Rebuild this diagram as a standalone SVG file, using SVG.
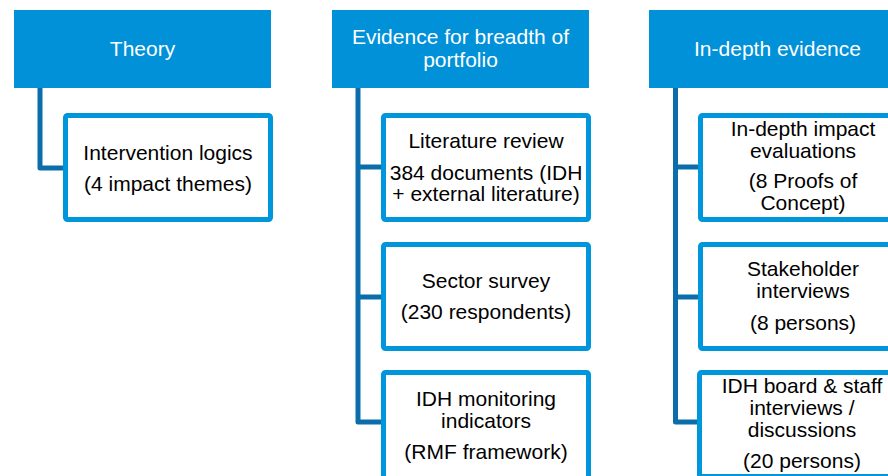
<svg xmlns="http://www.w3.org/2000/svg" width="888" height="476" viewBox="0 0 888 476">
<style>
  .hdr { fill: #0091D9; }
  .box { fill: #FFFFFF; stroke: #0096DB; stroke-width: 5; }
  .conn { fill: none; stroke: #0B6EAB; stroke-width: 5; stroke-linejoin: round; }
  text { font-family: "Liberation Sans", Arial, sans-serif; font-size: 21px; text-anchor: middle; }
  .ht { fill: #FFFFFF; }
  .bt { fill: #000000; }
</style>
<rect width="888" height="476" fill="#FFFFFF"/>
<g id="connectors">
  <path class="conn" d="M40,88 V168 H64"/>
  <path class="conn" d="M358,88 V422 H382 M358,167 H382 M358,297 H382"/>
  <path class="conn" d="M675.5,88 V422 H699 M675.5,167 H699 M675.5,297 H699"/>
</g>
<g id="theory">
  <rect class="hdr" x="14" y="10" width="257" height="78"/>
  <text class="ht" x="142.5" y="56">Theory</text>
</g>
<g id="breadth">
  <rect class="hdr" x="332" y="10" width="257" height="78"/>
  <text class="ht" x="460.5" y="44">Evidence for breadth of</text>
  <text class="ht" x="460.5" y="67">portfolio</text>
</g>
<g id="indepth">
  <rect class="hdr" x="649" y="10" width="257" height="78"/>
  <text class="ht" x="777.5" y="56">In-depth evidence</text>
</g>
<g id="intervention">
  <rect class="box" x="65.5" y="115.5" width="205" height="104" rx="2"/>
  <text class="bt" x="168" y="160">Intervention logics</text>
  <text class="bt" x="168" y="191">(4 impact themes)</text>
</g>
<g id="literature">
  <rect class="box" x="383.5" y="115.5" width="205" height="104" rx="2"/>
  <text class="bt" x="486" y="148">Literature review</text>
  <text class="bt" x="486" y="180">384 documents (IDH</text>
  <text class="bt" x="486" y="201">+ external literature)</text>
</g>
<g id="survey">
  <rect class="box" x="383.5" y="244.5" width="205" height="104" rx="2"/>
  <text class="bt" x="486" y="288">Sector survey</text>
  <text class="bt" x="486" y="319">(230 respondents)</text>
</g>
<g id="monitoring">
  <rect class="box" x="383.5" y="372.5" width="205" height="110" rx="2"/>
  <text class="bt" x="486" y="406">IDH monitoring</text>
  <text class="bt" x="486" y="428">indicators</text>
  <text class="bt" x="486" y="459">(RMF framework)</text>
</g>
<g id="evaluations">
  <rect class="box" x="700.5" y="115.5" width="205" height="104" rx="2"/>
  <text class="bt" x="803" y="136">In-depth impact</text>
  <text class="bt" x="803" y="158">evaluations</text>
  <text class="bt" x="803" y="188">(8 Proofs of</text>
  <text class="bt" x="803" y="210">Concept)</text>
</g>
<g id="stakeholder">
  <rect class="box" x="700.5" y="244.5" width="205" height="104" rx="2"/>
  <text class="bt" x="803" y="276">Stakeholder</text>
  <text class="bt" x="803" y="298">interviews</text>
  <text class="bt" x="803" y="330">(8 persons)</text>
</g>
<g id="board">
  <rect class="box" x="699.5" y="372.5" width="207" height="104" rx="2"/>
  <text class="bt" x="802" y="393">IDH board &amp; staff</text>
  <text class="bt" x="802" y="415">interviews /</text>
  <text class="bt" x="802" y="437">discussions</text>
  <text class="bt" x="802" y="468">(20 persons)</text>
</g>
</svg>
